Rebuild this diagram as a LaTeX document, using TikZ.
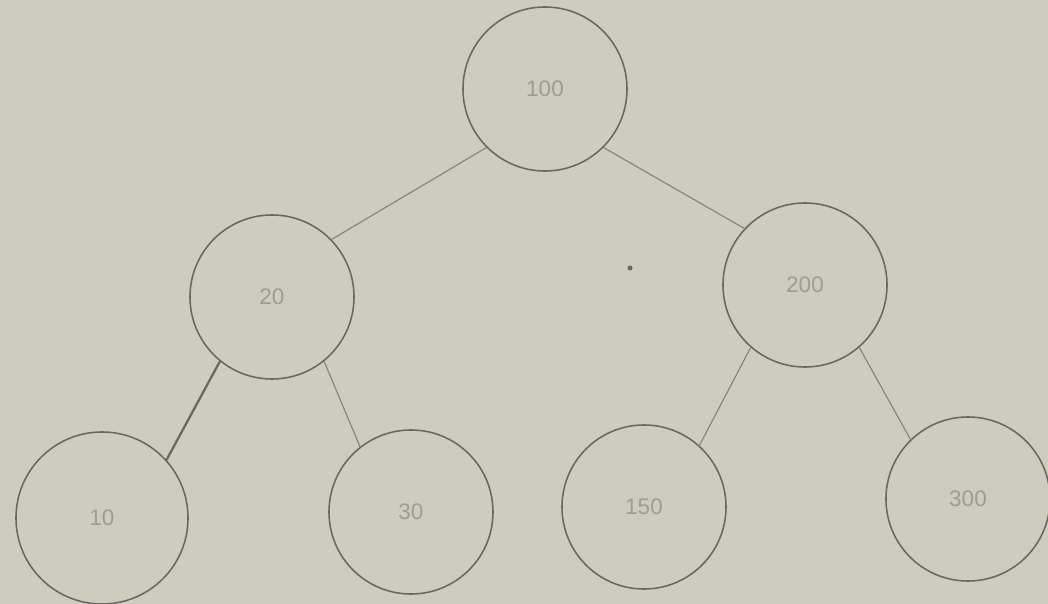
\documentclass[tikz,border=0pt]{standalone}
\usepackage{fontspec}
\setmainfont{Liberation Sans}
\definecolor{paper}{RGB}{206,203,191}
\definecolor{ink}{RGB}{105,103,96}
\definecolor{edgeink}{RGB}{132,130,122}
\definecolor{numink}{RGB}{158,156,147}
\begin{document}
\begin{tikzpicture}[x=0.025cm,y=-0.025cm,
  keynode/.style={circle,draw=ink,line width=1.1pt,minimum size=4.1cm,inner sep=0pt,
    font=\fontsize{16}{18}\selectfont,text=numink},
  link/.style={draw=edgeink,line width=0.8pt}]
  % sheet
  \fill[paper] (0,0) rectangle (1048,604);
  \useasboundingbox (0,0) rectangle (1048,604);
  % tree nodes
  \node[keynode] (n100) at (545,89) {100};
  \node[keynode] (n20)  at (272,297) {20};
  \node[keynode] (n200) at (805,285) {200};
  \node[keynode,minimum size=4.3cm] (n10) at (102,518) {10};
  \node[keynode] (n30)  at (411,512) {30};
  \node[keynode] (n150) at (644,507) {150};
  \node[keynode] (n300) at (968,499) {300};
  % branches
  \draw[link] (n100.225) -- (n20.44);
  \draw[link] (n100.315) -- (n200.137);
  \draw[link,draw=ink,line width=1.6pt] (n20.231) -- (n10.42);
  \draw[link] (n20.309) -- (n30.128);
  \draw[link] (n200.229) -- (n150.48);
  \draw[link] (n200.311) -- (n300.134);
  % speck on the sheet
  \fill[ink] (630,268) circle (2.5);
\end{tikzpicture}
\end{document}
